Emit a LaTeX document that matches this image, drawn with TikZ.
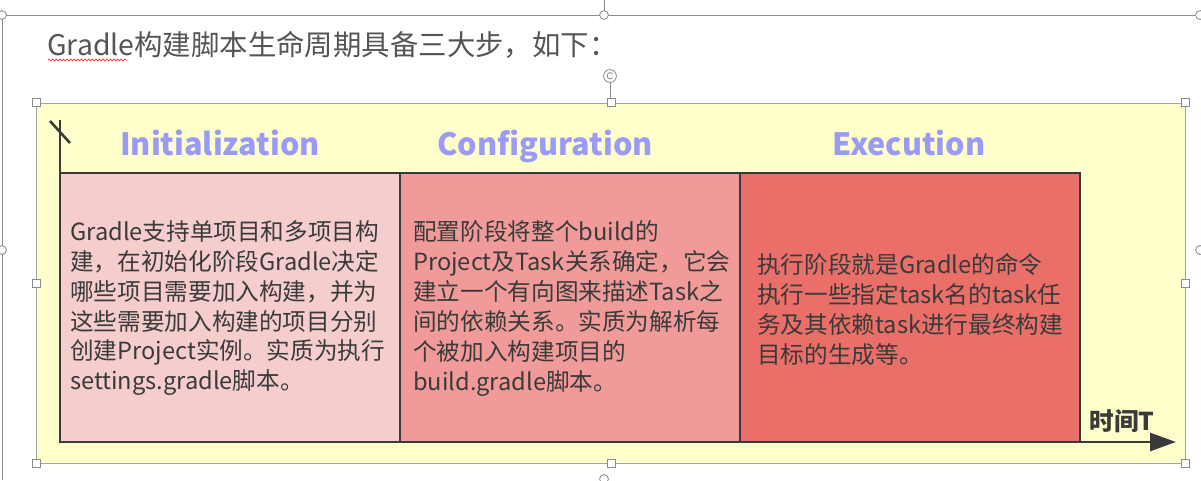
\documentclass[tikz,border=0pt]{standalone}
\usepackage{fontspec}
\setmainfont{Noto Sans CJK SC}
\usetikzlibrary{arrows.meta,decorations.pathmorphing}
\definecolor{bgyel}{HTML}{FFFFCC}
\definecolor{cone}{HTML}{F5CDCD}
\definecolor{ctwo}{HTML}{F09B99}
\definecolor{cthree}{HTML}{EA6F69}
\definecolor{hdrcol}{HTML}{9A9AF8}
\definecolor{ink}{HTML}{3A3A3A}
\definecolor{framecol}{HTML}{8C8C8C}
\definecolor{titlecol}{HTML}{555555}
\tikzset{
  handle/.style={draw=framecol, fill=white, line width=0.5pt, minimum size=0.2cm, inner sep=0pt, rectangle},
  ring/.style={draw=framecol, fill=white, line width=0.6pt, circle, minimum size=0.22cm, inner sep=0pt},
  phasebox/.style={draw=ink, line width=1.8pt, rectangle, minimum width=8.5cm, minimum height=6.725cm, inner sep=0pt},
  hdr/.style={text=hdrcol, font=\fontsize{21.8}{26}\selectfont\bfseries, inner sep=0pt, anchor=base},
  body/.style={text=ink, font=\fontsize{16.8}{21.3}\selectfont, align=left, anchor=north west, inner sep=0pt},
}
\begin{document}
\begin{tikzpicture}[x=0.025cm,y=-0.025cm]
\useasboundingbox (0,0) rectangle (1201,480);
% outer document frame
\coordinate (ftl) at (2,15);
\coordinate (ftr) at (1201,15);
\coordinate (fbl) at (2,480);
\coordinate (ftop) at (604,0);
\draw[framecol, line width=0.6pt] (fbl) -- (ftl) -- (ftr);
\draw[framecol, line width=0.6pt] (ftop) -- (604,15);
\node[ring] (r1) at (2,15) {};
\node[ring] (r2) at (604,15) {};
\node[ring] (r3) at (1200,15) {};
\node[ring] (r4) at (2,250) {};
\node[ring] (r5) at (1200,250) {};
\node[ring] (r6) at (604,479) {};
% title
\node[anchor=west, text=titlecol, font=\fontsize{20.2}{24}\selectfont, inner sep=0pt] (title) at (47,45) {Gradle构建脚本生命周期具备三大步，如下：};
\draw[red!80, line width=0.5pt, decorate, decoration={snake, segment length=0.09cm, amplitude=0.025cm}] (48,60) -- (127,60);
% yellow canvas
\node[draw=framecol!80, fill=bgyel, line width=0.6pt, minimum width=28.7cm, minimum height=9cm, inner sep=0pt] (canvas) at (611,283) {};
% rotation handle
\node[ring, minimum size=0.32cm] (rot) at (610,76) {};
\draw[framecol, line width=0.5pt] (rot.south) -- (610,103);
\draw[framecol, line width=0.6pt] ([shift={(2.5,-2.5)}]rot.center) arc[start angle=45, end angle=315, radius=0.08cm];
% phase boxes
\node[phasebox, fill=cone] (b1) at (230,307.5) {};
\node[phasebox, fill=ctwo] (b2) at (570,307.5) {};
\node[phasebox, fill=cthree] (b3) at (910,307.5) {};
% axes
\coordinate (axtop) at (60,120);
\coordinate (orig) at (60,442);
\coordinate (axend) at (1176,442);
\draw[ink, line width=2pt] (axtop) -- (orig);
\draw[ink, line width=2pt, -{Triangle[length=0.65cm, width=0.45cm]}] (orig) -- (axend);
\coordinate (tk1) at (50,121);
\coordinate (tk2) at (70,143);
\draw[ink, line width=1.8pt] (tk1) -- (tk2);
% headers
\node[hdr] (h1) at (220,155) {Initialization};
\node[hdr] (h2) at (545,155) {Configuration};
\node[hdr] (h3) at (909,155) {Execution};
% body texts
\node[body] (t1) at (70,220) {Gradle支持单项目和多项目构\\建，在初始化阶段Gradle决定\\哪些项目需要加入构建，并为\\这些需要加入构建的项目分别\\创建Project实例。实质为执行\\settings.gradle脚本。};
\node[body] (t2) at (413,220) {配置阶段将整个build的\\Project及Task关系确定，它会\\建立一个有向图来描述Task之\\间的依赖关系。实质为解析每\\个被加入构建项目的\\build.gradle脚本。};
\node[body] (t3) at (757,253) {执行阶段就是Gradle的命令\\执行一些指定task名的task任\\务及其依赖task进行最终构建\\目标的生成等。};
% time label
\node[text=ink, font=\fontsize{17.5}{20}\selectfont\bfseries, inner sep=0pt] (tl) at (1122,421) {时间T};
% selection handles
\node[handle] (s1) at (canvas.north west) {};
\node[handle] (s2) at (canvas.north) {};
\node[handle] (s3) at (canvas.north east) {};
\node[handle] (s4) at (canvas.west) {};
\node[handle] (s5) at (canvas.east) {};
\node[handle] (s6) at (canvas.south west) {};
\node[handle] (s7) at (canvas.south) {};
\node[handle] (s8) at (canvas.south east) {};
\end{tikzpicture}
\end{document}
